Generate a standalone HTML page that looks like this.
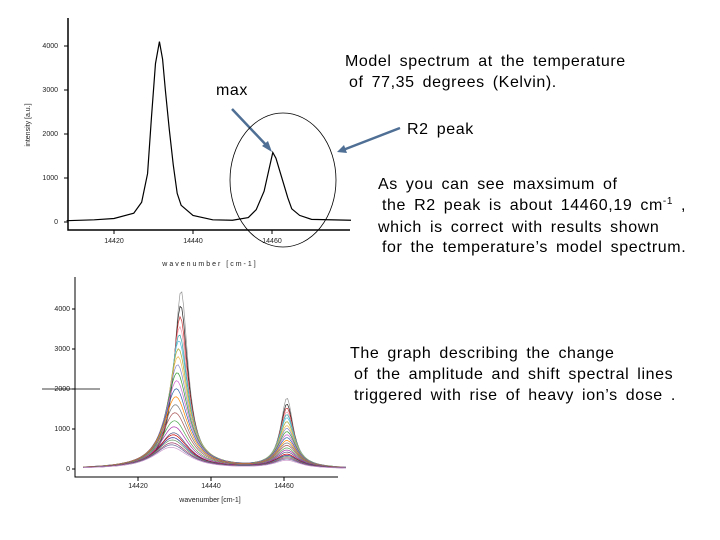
<!DOCTYPE html>
<html><head><meta charset="utf-8"><style>
body{margin:0;background:#fff}
svg{display:block}
text{font-family:"Liberation Sans",Arial,sans-serif}
.t{font-size:16px;fill:#000;letter-spacing:0.6px;word-spacing:3px}
.ax{font-size:7px;fill:#222}
</style></head><body>
<svg width="720" height="540" viewBox="0 0 720 540">
<g id="top"></g>
<g id="bot"></g>
<text class="t" x="216" y="95">max</text>
<line x1="232" y1="109" x2="268" y2="147" stroke="#4f6f94" stroke-width="2.5"/>
<polygon points="272,152 262,146 268,141" fill="#4f6f94"/>
<ellipse cx="283" cy="180" rx="53" ry="67" fill="none" stroke="#000" stroke-width="0.8"/>
<line x1="400" y1="128" x2="343" y2="150" stroke="#4f6f94" stroke-width="2.5"/>
<polygon points="337,152 344,145 347,153" fill="#4f6f94"/>
<g>
<text class="t" x="345" y="66">Model spectrum at the temperature</text>
<text class="t" x="349" y="87">of 77,35 degrees (Kelvin).</text>
</g>
<text class="t" x="407" y="134">R2 peak</text>
<g>
<text class="t" x="378" y="189">As you can see maxsimum of</text>
<text class="t" x="382" y="210">the R2 peak is about 14460,19 cm<tspan font-size="10" dy="-6">-1</tspan><tspan dy="6">  ,</tspan></text>
<text class="t" x="378" y="232">which is correct with results shown</text>
<text class="t" x="382" y="252">for the temperature’s model spectrum.</text>
</g>
<g>
<text class="t" x="350" y="358">The graph describing the change</text>
<text class="t" x="354" y="379">of the amplitude and shift spectral lines</text>
<text class="t" x="354" y="400">triggered with rise of heavy ion’s dose  .</text>
</g>
</svg>
<script>
const NS="http://www.w3.org/2000/svg";
// top chart data
const topWn=[14408,14415,14420,14425,14427,14428.5,14429.5,14430.5,14431.5,14432.3,14433,14434,14435,14436,14437,14440,14445,14450,14454,14456,14458,14459.5,14460.2,14461,14462,14463,14464,14465,14467,14470,14480];
const topInt=[30,50,80,200,450,1100,2400,3600,4100,3700,3000,2100,1300,650,380,150,50,40,100,280,700,1300,1580,1450,1150,850,550,300,150,60,40];
const topYTicks=[0,1000,2000,3000,4000];
const topXTicks=[14420,14440,14460];
// bottom chart data: peak heights of each spectrum
const botP1=[4450,4080,3800,3550,3350,3200,3000,2800,2600,2400,2200,2000,1800,1600,1400,1200,1050,900,850,780,720,650,600,540];
const botP2=[1750,1600,1500,1400,1330,1250,1150,1050,980,900,820,750,680,620,560,500,450,400,350,320,290,260,230,200];
const botYTicks=[0,1000,2000,3000,4000];
const botXTicks=[14420,14440,14460];
const colors=["#999","#222","#c33","#e9a","#3aa","#5bd","#aa3","#eb5","#88c","#393","#c6c","#36a","#f80","#777","#a55","#5a5","#a3a","#558","#c00","#339","#696","#936","#669","#c9c"];
function mk(t,a,p){const e=document.createElementNS(NS,t);for(const k in a)e.setAttribute(k,a[k]);p.appendChild(e);return e;}
// top
(function(){
 const g=document.getElementById('top');
 const x=w=>114+(w-14420)*3.95, y=v=>222-v*0.044;
 const ax=mk('path',{d:'M68,18 V230 H350',fill:'none',stroke:'#000','stroke-width':1.5},g);
 
 topYTicks.forEach(v=>{mk('line',{x1:64,x2:68,y1:y(v),y2:y(v),stroke:'#000'},g);
  const t=mk('text',{x:58,y:y(v)+2,'text-anchor':'end',class:'ax'},g);t.textContent=v;
  });
 topXTicks.forEach(v=>{mk('line',{x1:x(v),x2:x(v),y1:230,y2:234,stroke:'#000'},g);
  const t=mk('text',{x:x(v),y:243,'text-anchor':'middle',class:'ax'},g);t.textContent=v;
  });
 const xt=mk('text',{x:210,y:266,'text-anchor':'middle',class:'ax','font-size':9,'letter-spacing':2},g);xt.textContent='wavenumber [cm-1]';
 
 const yt=mk('text',{x:30,y:125,'text-anchor':'middle',class:'ax','font-size':9,transform:'rotate(-90 30 125)'},g);yt.textContent='intensity [a.u.]';
 
 const l=mk('polyline',{points:topWn.map((w,i)=>x(w)+','+y(topInt[i])).join(' '),fill:'none',stroke:'#000','stroke-width':1.2},g);
 
})();
// bottom
(function(){
 const g=document.getElementById('bot');
 const x=w=>138+(w-14420)*3.65, y=v=>469-v*0.04;
 const ax=mk('path',{d:'M75,277 V477 H338',fill:'none',stroke:'#000','stroke-width':1},g);
 
 botYTicks.forEach(v=>{mk('line',{x1:72,x2:75,y1:y(v),y2:y(v),stroke:'#000'},g);
  const t=mk('text',{x:70,y:y(v)+2,'text-anchor':'end',class:'ax'},g);t.textContent=v;
  });
 botXTicks.forEach(v=>{mk('line',{x1:x(v),x2:x(v),y1:477,y2:481,stroke:'#000'},g);
  const t=mk('text',{x:x(v),y:488,'text-anchor':'middle',class:'ax'},g);t.textContent=v;
  });
 const xt=mk('text',{x:210,y:502,'text-anchor':'middle',class:'ax','font-size':9},g);xt.textContent='wavenumber [cm-1]';
 
 mk('line',{x1:42,x2:100,y1:389,y2:389,stroke:'#000','stroke-width':0.8},g);
 botP1.forEach((h1,i)=>{
  const h2=botP2[i], w1=2.3+i*0.16, w2=2.1+i*0.1, c1=14431.8-i*0.12, pts=[];
  for(let w=14405;w<=14477;w+=0.5){
   const v=h1/(1+((w-c1)/w1)**2)+h2/(1+((w-14460.8)/w2)**2);
   pts.push(x(w).toFixed(1)+','+y(v).toFixed(1));}
  const l=mk('polyline',{points:pts.join(' '),fill:'none',stroke:colors[i%colors.length],'stroke-width':0.7},g);
  
  
 });
})();
</script>
</body></html>
